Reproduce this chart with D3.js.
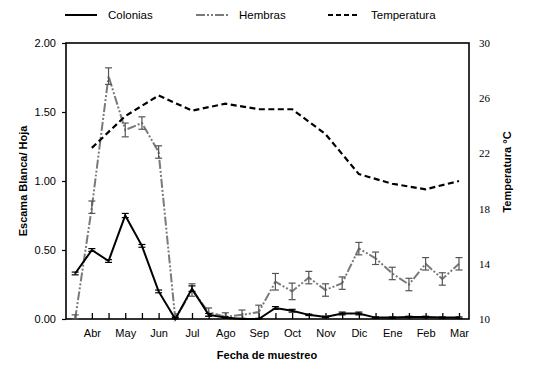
<!DOCTYPE html>
<html>
<head>
<meta charset="utf-8">
<script src="https://cdn.jsdelivr.net/npm/d3@7"></script>
<style>
  body { margin: 0; background: #fff; }
  svg { display: block; font-family: "Liberation Sans", Arial, sans-serif; }
</style>
</head>
<body>
<svg id="chart" width="534" height="373"></svg>
<script>
// sampling dates (every two weeks), month labels sit on odd samples
var monthLabels = ["", "Abr", "", "May", "", "Jun", "", "Jul", "", "Ago", "", "Sep",
                   "", "Oct", "", "Nov", "", "Dic", "", "Ene", "", "Feb", "", "Mar"];

var colonias    = [0.33, 0.50, 0.42, 0.75, 0.53, 0.20, 0.00, 0.22, 0.03, 0.01, 0.00, 0.00,
                   0.08, 0.06, 0.03, 0.015, 0.04, 0.04, 0.01, 0.01, 0.015, 0.015, 0.01, 0.01];
var coloniasErr = [0.01, 0.01, 0.01, 0.015, 0.01, 0.01, 0.01, 0.02, 0.01, 0.005, 0.005, 0.005,
                   0.01, 0.01, 0.005, 0.005, 0.01, 0.01, 0.005, 0.005, 0.005, 0.005, 0.005, 0.005];

var hembras    = [0.00, 0.81, 1.76, 1.37, 1.42, 1.21, 0.00, 0.21, 0.05, 0.015, 0.03, 0.05,
                  0.27, 0.20, 0.30, 0.21, 0.26, 0.51, 0.44, 0.33, 0.25, 0.40, 0.29, 0.40];
var hembrasErr = [0.03, 0.045, 0.06, 0.05, 0.045, 0.045, 0.02, 0.045, 0.03, 0.03, 0.035, 0.05,
                  0.06, 0.06, 0.045, 0.045, 0.045, 0.045, 0.045, 0.045, 0.045, 0.045, 0.045, 0.045];

// monthly temperature, measured on the odd samples
var tempIdx    = [1, 3, 5, 7, 9, 11, 13, 15, 17, 19, 21, 23];
var temperatura = [22.4, 24.7, 26.2, 25.1, 25.6, 25.2, 25.2, 23.4, 20.5, 19.8, 19.4, 20.0];

var leftTicks  = [0, 0.5, 1, 1.5, 2];
var rightTicks = [10, 14, 18, 22, 26, 30];

var svg = d3.select("#chart");
var pLeft = 66, pRight = 469, pTop = 43, pBottom = 319;

var x  = d3.scaleLinear().domain([-0.55, 23.6]).range([pLeft, pRight]);
var yL = d3.scaleLinear().domain([0, 2]).range([pBottom, pTop]);
var yR = d3.scaleLinear().domain([10, 30]).range([pBottom, pTop]);

// frame
svg.append("rect")
  .attr("x", pLeft).attr("y", pTop)
  .attr("width", pRight - pLeft).attr("height", pBottom - pTop)
  .attr("fill", "none").attr("stroke", "#000").attr("stroke-width", 1.6);

// left axis
var gl = svg.append("g")
  .attr("transform", "translate(" + pLeft + ",0)")
  .call(d3.axisLeft(yL).tickValues(leftTicks).tickFormat(d3.format(".2f")).tickSize(4).tickPadding(6));
gl.select(".domain").remove();
gl.selectAll("line").attr("stroke-width", 1.2);
gl.selectAll("text").attr("font-size", 11).attr("font-family", "Liberation Sans, Arial, sans-serif").attr("fill", "#000");

// right axis (serif labels, no ticks)
var gr = svg.append("g")
  .attr("transform", "translate(" + pRight + ",0)")
  .call(d3.axisRight(yR).tickValues(rightTicks).tickSize(0).tickPadding(10));
gr.select(".domain").remove();
gr.selectAll("text").attr("font-size", 11).attr("font-family", "Liberation Serif, Times New Roman, serif").attr("fill", "#000");

// bottom axis: inward ticks at every sample, labels on months
var gb = svg.append("g")
  .attr("transform", "translate(0," + pBottom + ")")
  .call(d3.axisBottom(x).tickValues(d3.range(24)).tickSize(-6).tickPadding(10)
    .tickFormat(function(i) { return monthLabels[i]; }));
gb.select(".domain").remove();
gb.selectAll("line").attr("stroke-width", 1.3);
gb.selectAll("text").attr("font-size", 11).attr("font-family", "Liberation Sans, Arial, sans-serif").attr("fill", "#000");

// axis titles
svg.append("text")
  .attr("transform", "translate(27," + ((pTop + pBottom) / 2) + ") rotate(-90)")
  .attr("text-anchor", "middle")
  .attr("font-size", 11).attr("font-weight", "bold")
  .text("Escama Blanca/ Hoja");

svg.append("text")
  .attr("transform", "translate(511," + 172 + ") rotate(-90)")
  .attr("text-anchor", "middle")
  .attr("font-size", 11).attr("font-weight", "bold")
  .text("Temperatura °C");

svg.append("text")
  .attr("x", 267).attr("y", 359)
  .attr("text-anchor", "middle")
  .attr("font-size", 11).attr("font-weight", "bold")
  .text("Fecha de muestreo");

// error bars
function errorBars(values, errs, color, width) {
  var g = svg.append("g").attr("stroke", color).attr("stroke-width", width);
  values.forEach(function(v, i) {
    var lo = Math.max(0, v - errs[i]), hi = v + errs[i];
    g.append("line").attr("x1", x(i)).attr("x2", x(i)).attr("y1", yL(lo)).attr("y2", yL(hi));
    g.append("line").attr("x1", x(i) - 3.5).attr("x2", x(i) + 3.5).attr("y1", yL(hi)).attr("y2", yL(hi));
    g.append("line").attr("x1", x(i) - 3.5).attr("x2", x(i) + 3.5).attr("y1", yL(lo)).attr("y2", yL(lo));
  });
}

var lineL = d3.line().x(function(d, i) { return x(i); }).y(function(d) { return yL(d); });

// Hembras
svg.append("path")
  .attr("d", lineL(hembras))
  .attr("fill", "none").attr("stroke", "#7a7a7a").attr("stroke-width", 2)
  .attr("stroke-dasharray", "9,2,2,2,2,2");
errorBars(hembras, hembrasErr, "#555", 1.2);

// Colonias
svg.append("path")
  .attr("d", lineL(colonias))
  .attr("fill", "none").attr("stroke", "#000").attr("stroke-width", 2);
errorBars(colonias, coloniasErr, "#000", 1.2);

// Temperatura
var lineT = d3.line()
  .x(function(d, k) { return x(tempIdx[k]); })
  .y(function(d) { return yR(d); });
svg.append("path")
  .attr("d", lineT(temperatura))
  .attr("fill", "none").attr("stroke", "#000").attr("stroke-width", 2.2)
  .attr("stroke-dasharray", "6,3.5");

// legend
var legend = [
  { name: "Colonias", x: 65, color: "#000", width: 2, dash: null },
  { name: "Hembras", x: 196, color: "#7a7a7a", width: 2, dash: "9,2,2,2,2,2" },
  { name: "Temperatura", x: 328, color: "#000", width: 2.2, dash: "5,3" }
];
var lg = svg.selectAll("g.leg").data(legend).enter().append("g").attr("class", "leg");
lg.append("line")
  .attr("x1", function(d) { return d.x; }).attr("x2", function(d) { return d.x + 32; })
  .attr("y1", 15).attr("y2", 15)
  .attr("stroke", function(d) { return d.color; })
  .attr("stroke-width", function(d) { return d.width; })
  .attr("stroke-dasharray", function(d) { return d.dash; });
lg.append("text")
  .attr("x", function(d) { return d.x + 43; }).attr("y", 19)
  .attr("font-size", 11.5)
  .text(function(d) { return d.name; });
</script>
</body>
</html>
